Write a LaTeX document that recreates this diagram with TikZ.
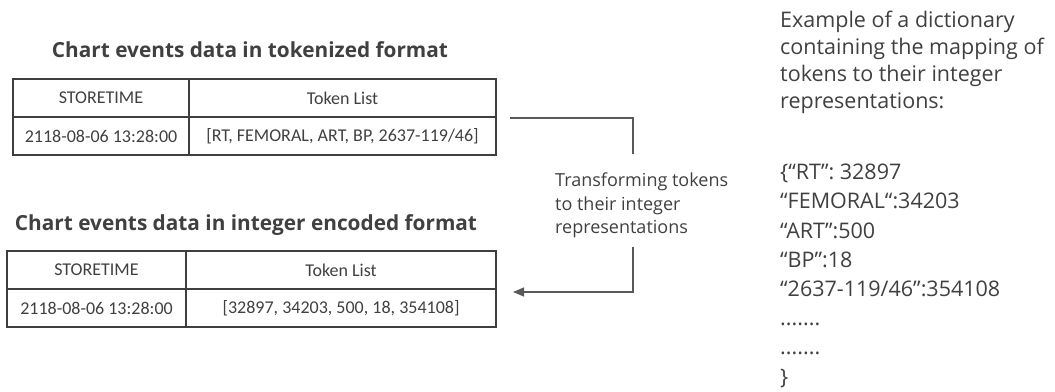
\documentclass[tikz,border=0pt]{standalone}
\usepackage{fontspec}
\setmainfont{Open Sans}
\newfontfamily\tabfont{Carlito}
\usetikzlibrary{arrows.meta}
\definecolor{txt}{HTML}{404040}
\definecolor{brd}{HTML}{3F3F3F}
\definecolor{con}{HTML}{595959}
\tikzset{
  cell/.style={draw=brd, line width=1.4pt, minimum height=38pt, inner sep=0pt, text=txt, font=\tabfont\fontsize{18}{20}\selectfont},
  title/.style={anchor=base, inner sep=0pt, text=txt, font=\bfseries\fontsize{20.8}{23}\selectfont},
  conn/.style={draw=con, line width=1.1pt},
  para/.style={anchor=north west, inner sep=0pt, align=left, text=txt},
}
\begin{document}
\begin{tikzpicture}[x=1pt,y=-1pt]
\useasboundingbox (0,0) rectangle (1055,391);
% titles
\node[title] (title1) at (250,57) {Chart events data in tokenized format};
\node[title] (title2) at (246,230) {Chart events data in integer encoded format};
% table 1
\node[cell, minimum width=176pt] (a11) at (101,98) {STORETIME};
\node[cell, minimum width=307pt] (a12) at (342.5,98) {Token List};
\node[cell, minimum width=176pt] (a21) at (101,136) {2118-08-06 13:28:00};
\node[cell, minimum width=307pt] (a22) at (342.5,136) {[RT, FEMORAL, ART, BP, 2637-119/46]};
% table 2
\node[cell, minimum width=179pt] (b11) at (96.5,270) {STORETIME};
\node[cell, minimum width=310pt] (b12) at (341,270) {Token List};
\node[cell, minimum width=179pt] (b21) at (96.5,308) {2118-08-06 13:28:00};
\node[cell, minimum width=310pt] (b22) at (341,308) {[32897, 34203, 500, 18, 354108]};
% connector
\coordinate (cstart) at (510,118);
\coordinate (cbreak1) at (633,154);
\coordinate (cbreak2) at (633,247);
\coordinate (cend) at (513,292);
\node[para, font=\fontsize{18}{23.5}\selectfont] (trans) at (555,173) {Transforming tokens\\to their integer\\representations};
\draw[conn] (cstart) -| (cbreak1);
\draw[conn, -{Triangle[length=11pt,width=9pt]}] (cbreak2) |- (cend);
% dictionary text
\node[para, font=\fontsize{21.5}{27}\selectfont] (desc) at (780,11) {Example of a dictionary\\containing the mapping of\\tokens to their integer\\representations:};
\node[para, font=\fontsize{21.5}{29.2}\selectfont] (dict) at (780,164) {\{“RT”: 32897\\“FEMORAL“:34203\\“ART”:500\\“BP”:18\\“2637-119/46”:354108\\.......\\.......\\\}};
\end{tikzpicture}
\end{document}
